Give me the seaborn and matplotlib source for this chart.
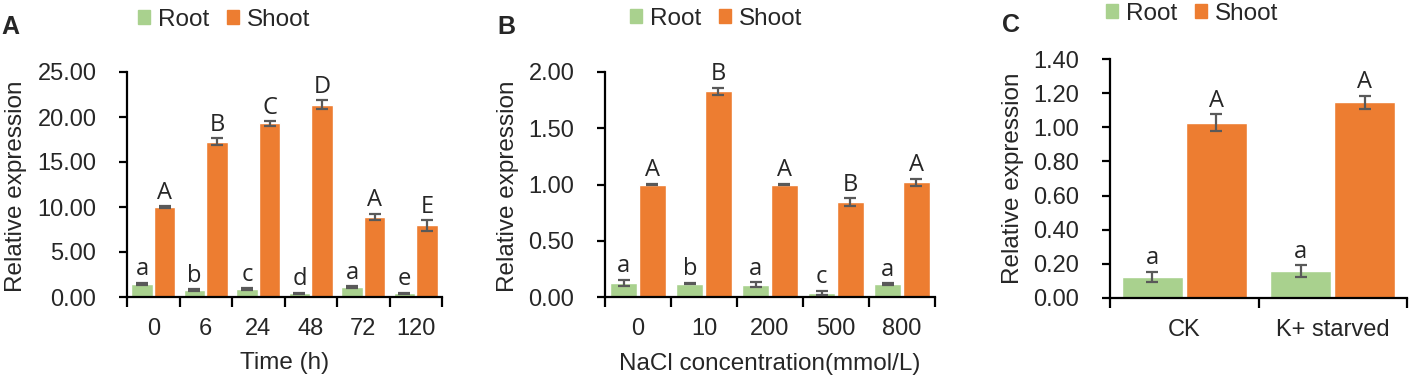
import numpy as np
import pandas as pd
import matplotlib
matplotlib.use('Agg')
import matplotlib.pyplot as plt
import seaborn as sns
from matplotlib.patches import Patch
from matplotlib.ticker import FixedLocator, MultipleLocator, FormatStrFormatter

# Panel A: time course
time_labels = ['0', '6', '24', '48', '72', '120']
time_root = [1.45, 0.75, 0.90, 0.40, 1.10, 0.42]
time_root_err = [0.15, 0.10, 0.08, 0.10, 0.08, 0.06]
time_shoot = [10.0, 17.25, 19.3, 21.35, 8.9, 7.95]
time_shoot_err = [0.08, 0.40, 0.25, 0.50, 0.35, 0.60]
time_root_sig = ['a', 'b', 'c', 'd', 'a', 'e']
time_shoot_sig = ['A', 'B', 'C', 'D', 'A', 'E']

# Panel B: NaCl concentration
nacl_labels = ['0', '10', '200', '500', '800']
nacl_root = [0.124, 0.120, 0.110, 0.035, 0.115]
nacl_root_err = [0.030, 0.006, 0.020, 0.020, 0.006]
nacl_shoot = [1.00, 1.83, 1.00, 0.845, 1.02]
nacl_shoot_err = [0.006, 0.030, 0.006, 0.035, 0.030]
nacl_root_sig = ['a', 'b', 'a', 'c', 'a']
nacl_shoot_sig = ['A', 'B', 'A', 'B', 'A']

# Panel C: potassium starvation
k_labels = ['CK', 'K+ starved']
k_root = [0.125, 0.157]
k_root_err = [0.030, 0.035]
k_shoot = [1.027, 1.148]
k_shoot_err = [0.050, 0.038]
k_root_sig = ['a', 'a']
k_shoot_sig = ['A', 'A']

GREEN = '#A9D18E'
ORANGE = '#ED7D31'
ERR = '#595959'

sns.set_style('ticks')
plt.rcParams['font.family'] = ['Liberation Sans', 'DejaVu Sans']

W, H = 1412, 381
fig = plt.figure(figsize=(W / 100, H / 100), dpi=100)


def axes_px(left, right, top, bottom):
    return fig.add_axes([left / W, 1 - bottom / H, (right - left) / W, (bottom - top) / H])


def draw_panel(ax, cats, root, root_err, shoot, shoot_err, root_sig, shoot_sig, ymax, step):
    n = len(cats)
    df = pd.DataFrame({
        'cat': cats * 2,
        'tissue': ['Root'] * n + ['Shoot'] * n,
        'value': root + shoot,
    })
    sns.barplot(data=df, x='cat', y='value', hue='tissue', order=cats,
                hue_order=['Root', 'Shoot'], palette=[GREEN, ORANGE],
                saturation=1, width=0.86, gap=0.05, errorbar=None,
                legend=False, ax=ax)
    for cont, errs, sigs in zip(ax.containers, [root_err, shoot_err], [root_sig, shoot_sig]):
        for bar, e, s in zip(cont, errs, sigs):
            cx = bar.get_x() + bar.get_width() / 2
            h = bar.get_height()
            ax.errorbar(cx, h, yerr=e, fmt='none', ecolor=ERR, elinewidth=1.6,
                        capsize=4.5, capthick=1.6, zorder=5)
            ax.annotate(s, (cx, h + e), xytext=(0, 1), textcoords='offset points',
                        ha='center', va='bottom', fontsize=17,
                        family=['Open Sans', 'DejaVu Sans'])
    ax.set_xlim(-0.5, n - 0.5)
    ax.set_ylim(0, ymax)
    ax.xaxis.set_minor_locator(FixedLocator(np.arange(-0.5, n, 1.0)))
    ax.tick_params(axis='x', which='major', length=0, pad=15, labelsize=17)
    ax.tick_params(axis='x', which='minor', length=7, width=1.6, color='black', direction='out')
    ax.yaxis.set_major_locator(MultipleLocator(step))
    ax.yaxis.set_major_formatter(FormatStrFormatter('%.2f'))
    ax.tick_params(axis='y', length=6, width=1.6, color='black', pad=16, labelsize=17)
    sns.despine(ax=ax)
    for sp in ['left', 'bottom']:
        ax.spines[sp].set_linewidth(1.6)
        ax.spines[sp].set_color('black')
    ax.set_ylabel('Relative expression', fontsize=17.5)
    ax.set_xlabel('')


axA = axes_px(127, 442, 72, 297)
draw_panel(axA, time_labels, time_root, time_root_err, time_shoot, time_shoot_err,
           time_root_sig, time_shoot_sig, 25, 5)
axA.set_xlabel('Time (h)', fontsize=17.5)
axA.xaxis.set_label_coords(0.5, -0.245)
axA.yaxis.set_label_coords(-0.318, 0.49)

axB = axes_px(605, 935, 72, 297)
draw_panel(axB, nacl_labels, nacl_root, nacl_root_err, nacl_shoot, nacl_shoot_err,
           nacl_root_sig, nacl_shoot_sig, 2.0, 0.5)
axB.set_xlabel('NaCl concentration(mmol/L)', fontsize=17.5)
axB.xaxis.set_label_coords(0.5, -0.25)
axB.yaxis.set_label_coords(-0.261, 0.49)

axC = axes_px(1110, 1407, 59, 298)
draw_panel(axC, k_labels, k_root, k_root_err, k_shoot, k_shoot_err,
           k_root_sig, k_shoot_sig, 1.4, 0.2)
axC.yaxis.set_label_coords(-0.29, 0.5)

handles = [Patch(color=GREEN, label='Root'), Patch(color=ORANGE, label='Shoot')]
for cx, cy in [(224, 20), (716, 19), (1192, 14)]:
    fig.legend(handles=handles, loc='center', bbox_to_anchor=(cx / W, 1 - cy / H),
               ncol=2, frameon=False, fontsize=17.5, handlelength=0.5,
               handleheight=0.5, handletextpad=0.3, columnspacing=0.75,
               borderpad=0, borderaxespad=0)

for lab, x, y in [('A', 1, 27), ('B', 497, 27), ('C', 1002, 25)]:
    fig.text(x / W, 1 - y / H, lab, fontsize=18, fontweight='bold', ha='left', va='center')

fig.savefig('out.png', dpi=100)
